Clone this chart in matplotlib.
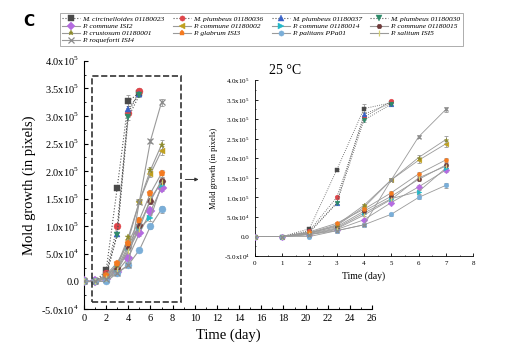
import matplotlib
matplotlib.use("Agg")
import matplotlib.pyplot as plt
from matplotlib.patches import Rectangle
from matplotlib.ticker import FuncFormatter, MultipleLocator

plt.rcParams['font.family'] = ['Liberation Serif', 'DejaVu Serif']
plt.rcParams['mathtext.fontset'] = 'custom'
plt.rcParams['mathtext.rm'] = 'Liberation Serif'

# strain names (legend order, row by row)
strains = [
    "M. circinelloides 01180023", "M. plumbeus 01180036", "M. plumbeus 01180037", "M. plumbeus 01180030",
    "P. commune ISI2", "P. commune 01180002", "P. commune 01180014", "P. commune 01180015",
    "P. crustosum 01180001", "P. glabrum ISI3", "P. palitans PPa01", "P. salitum ISI5",
    "P. roqueforti ISI4",
]

days_m = [0, 1, 2, 3, 4, 5]
days_p = [0, 1, 2, 3, 4, 5, 6, 7]

# mold growth (pixels)
growth = [
    [0, 0, 20000, 170000, 327000, 342000],
    [0, 0, 15000, 100000, 305000, 346000],
    [0, 0, 12000, 86000, 313000, 340000],
    [0, 0, 10000, 85000, 298000, 338000],
    [0, 0, 5000, 18000, 43000, 87000, 127000, 170000],
    [0, 0, 8000, 28000, 75000, 145000, 195000, 237000],
    [0, 0, 8000, 22000, 60000, 97000, 115000, 175000],
    [0, 0, 10000, 25000, 65000, 103000, 146000, 183000],
    [0, 0, 10000, 30000, 80000, 145000, 202000, 248000],
    [0, 0, 12000, 34000, 70000, 112000, 160000, 196000],
    [0, 0, 0, 15000, 30000, 57000, 100000, 131000],
    [0, 0, 6000, 20000, 55000, 95000, 150000, 180000],
    [0, 0, 5000, 15000, 30000, 145000, 255000, 325000],
]

errors = [
    [0, 0, 2000, 3000, 12000, 5000],
    [0, 0, 2000, 3000, 6000, 4000],
    [0, 0, 2000, 3000, 6000, 4000],
    [0, 0, 2000, 3000, 6000, 4000],
    [0, 0, 1000, 2000, 3000, 4000, 5000, 6000],
    [0, 0, 1000, 2000, 3000, 4000, 6000, 8000],
    [0, 0, 1000, 2000, 3000, 4000, 5000, 6000],
    [0, 0, 1000, 2000, 3000, 4000, 5000, 6000],
    [0, 0, 1000, 2000, 3000, 4000, 6000, 8000],
    [0, 0, 1000, 2000, 3000, 4000, 5000, 6000],
    [0, 0, 1000, 2000, 3000, 4000, 5000, 6000],
    [0, 0, 1000, 2000, 3000, 4000, 5000, 6000],
    [0, 0, 1000, 2000, 3000, 4000, 4000, 6000],
]

colors = ["#4a4a4a", "#e0454a", "#3a63c8", "#2e8b6a",
          "#b46be0", "#c0a020", "#22b8c8", "#6e3b3b",
          "#8c8a2a", "#f47a20", "#7aaed8", "#d4d070",
          "#8a8a8a"]
markers = ["s", "o", "^", "v", "D", "<", ">", "H", "*", "p", "o", "|", "x"]


def sci_fmt(v, pos):
    if abs(v) < 1:
        return "0.0"
    e = len(str(int(abs(v)))) - 1
    m = v / 10 ** e
    return f"{m:.1f}x10$^{{{e}}}$"


def draw(ax, ms, lw):
    handles = []
    for i, name in enumerate(strains):
        days = days_m if i < 4 else days_p
        ls = ":" if i < 4 else "-"
        lc = "#555555" if i < 4 else "#9a9a9a"
        ax.errorbar(days, growth[i], yerr=errors[i], fmt="none", ecolor="#999999",
                    elinewidth=0.6, capsize=1.5, capthick=0.6, zorder=2)
        mew = 0.9 if markers[i] in ("x", "|") else 0.3
        h, = ax.plot(days, growth[i], ls=ls, color=lc, lw=lw, marker=markers[i],
                     ms=ms, mfc=colors[i], mec=colors[i], mew=mew, zorder=4, label=name)
        handles.append(h)
    ax.spines["top"].set_visible(False)
    ax.spines["right"].set_visible(False)
    ax.yaxis.set_major_formatter(FuncFormatter(sci_fmt))
    ax.yaxis.set_major_locator(MultipleLocator(50000))
    ax.yaxis.set_minor_locator(MultipleLocator(25000))
    ax.set_ylim(-50000, 400000)
    ax.tick_params(which="both", direction="in")
    return handles


fig = plt.figure(figsize=(5.2, 3.48), dpi=100)

ax = fig.add_axes([0.1615, 0.112, 0.554, 0.713])
handles = draw(ax, 5, 0.8)
ax.set_xlim(0, 26)
ax.xaxis.set_major_locator(MultipleLocator(2))
ax.xaxis.set_minor_locator(MultipleLocator(1))
ax.tick_params(which="major", length=3, labelsize=7.5)
ax.tick_params(which="minor", length=1.5)
ax.set_xlabel("Time (day)", fontsize=10.5)
ax.set_ylabel("Mold growth (in pixels)", fontsize=10.5)

ax.add_patch(Rectangle((0.7, -38000), 8.1, 411000, fill=False, ls="--",
                       lw=1.2, ec="#333333", zorder=5))
ax.annotate("", xy=(10.6, 185000), xytext=(8.9, 185000),
            arrowprops=dict(arrowstyle="-|>", color="#333333", lw=0.7, mutation_scale=5))

ins = fig.add_axes([0.490, 0.264, 0.420, 0.506])
draw(ins, 3.4, 0.6)
ins.set_xlim(0, 8)
ins.xaxis.set_major_locator(MultipleLocator(1))
ins.xaxis.set_minor_locator(MultipleLocator(0.5))
ins.tick_params(which="major", length=2, labelsize=5, width=0.6)
ins.tick_params(which="minor", length=1, width=0.5)
for s in ("left", "bottom"):
    ins.spines[s].set_linewidth(0.6)
ins.set_xlabel("Time (day)", fontsize=7)
ins.set_ylabel("Mold growth (in pixels)", fontsize=6)
fig.text(285 / 520, 1 - 70 / 348, "25 °C", fontsize=10, ha="center", va="center")

# legend filled row by row
order = [0, 4, 8, 12, 1, 5, 9, 2, 6, 10, 3, 7, 11]
leg = fig.legend([handles[i] for i in order], [strains[i] for i in order],
                 loc="upper left", bbox_to_anchor=(0.108, 0.972), ncol=4,
                 prop={"family": "Liberation Serif", "style": "italic", "size": 5.4},
                 frameon=True, fancybox=False, edgecolor="#888888",
                 handlelength=2.4, columnspacing=1.1, labelspacing=0.12,
                 borderpad=0.3, handletextpad=0.3, markerscale=0.75)
leg.get_frame().set_linewidth(0.6)

fig.text(0.045, 0.925, "C", fontsize=11, fontweight="bold", family="DejaVu Sans")

fig.savefig("out.png", dpi=100)
